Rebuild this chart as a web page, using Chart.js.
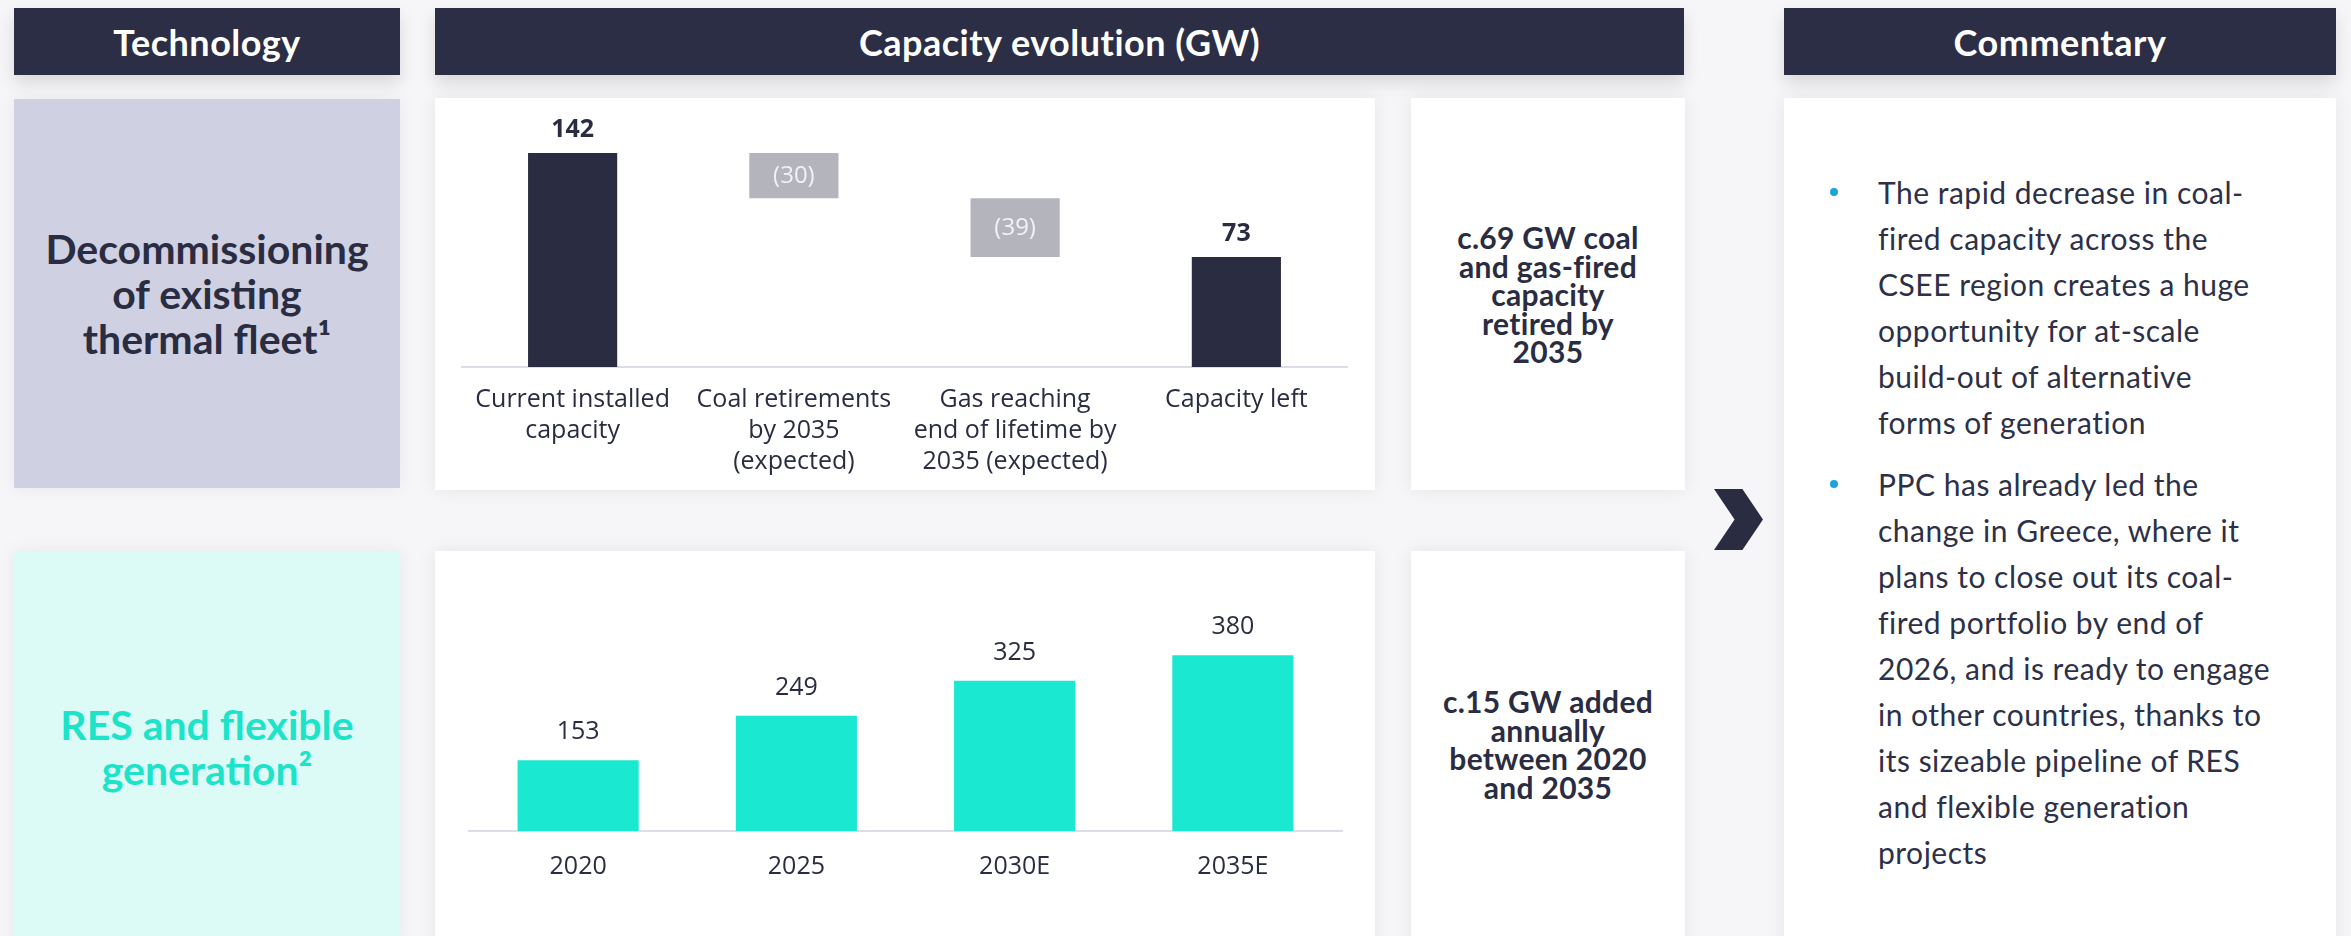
<!DOCTYPE html>
<html>
<head>
<meta charset="utf-8">
<script src="https://cdn.jsdelivr.net/npm/chart.js@4.4.1/dist/chart.umd.min.js"></script>
<style>
  html, body { margin: 0; padding: 0; }
  body { width: 2351px; height: 936px; background: #f6f6f8; position: relative; overflow: hidden; font-family: Lato, "Open Sans", sans-serif; color: #2a2d42; }
  .box { position: absolute; }
  .head { background: #2b2e44; color: #fff; font-weight: 700; font-size: 36px; display: flex; align-items: center; justify-content: center; box-shadow: 0 8px 16px rgba(0,0,0,0.12); letter-spacing: 0.5px; }
  .card { background: #fff; box-shadow: 0 0 18px rgba(0,0,0,0.07); }
  .title { position: absolute; left: 0; right: 0; text-align: center; font-weight: 700; font-size: 41px; line-height: 45px; }
  .note { position: absolute; left: 0; right: 0; text-align: center; font-weight: 700; font-size: 30px; line-height: 28.5px; color: #2a2d42; letter-spacing: 0.3px; }
  .comment { position: absolute; left: 94px; font-size: 30px; line-height: 46px; letter-spacing: 0.5px; color: #2d3047; }
  .dot { position: absolute; left: 46px; width: 8px; height: 8px; border-radius: 50%; background: #1ba3dc; }
  .chev { position: absolute; left: 1714px; top: 489px; width: 49px; height: 61px; background: #2a2d42; clip-path: polygon(0 0, 58% 0, 100% 50%, 58% 100%, 0 100%, 42% 50%); }
  canvas { position: absolute; }
</style>
</head>
<body>

<!-- headers -->
<div class="box head" style="left:14px;top:8px;width:386px;height:67px;">Technology</div>
<div class="box head" style="left:435px;top:8px;width:1249px;height:67px;">Capacity evolution (GW)</div>
<div class="box head" style="left:1784px;top:8px;width:552px;height:67px;">Commentary</div>

<!-- left labels -->
<div class="box" style="left:14px;top:99px;width:386px;height:389px;background:#cfd0e1;box-shadow:0 0 18px rgba(0,0,0,0.06);">
  <div class="title" style="top:127px;color:#2a2d42;">Decommissioning<br>of existing<br>thermal fleet¹</div>
</div>
<div class="box" style="left:14px;top:551px;width:386px;height:400px;background:#dcfaf6;box-shadow:0 0 18px rgba(0,0,0,0.06);">
  <div class="title" style="top:151px;color:#1de3c9;">RES and flexible<br>generation²</div>
</div>

<!-- chart cards -->
<div class="box card" style="left:435px;top:98px;width:940px;height:392px;"></div>
<div class="box card" style="left:435px;top:551px;width:940px;height:400px;"></div>

<!-- side notes -->
<div class="box card" style="left:1411px;top:98px;width:274px;height:392px;">
  <div class="note" style="top:125px;">c.69 GW coal<br>and gas-fired<br>capacity<br>retired by<br>2035</div>
</div>
<div class="box card" style="left:1411px;top:551px;width:274px;height:400px;">
  <div class="note" style="top:136px;">c.15 GW added<br>annually<br>between 2020<br>and 2035</div>
</div>

<div class="chev"></div>

<!-- commentary -->
<div class="box card" style="left:1784px;top:98px;width:552px;height:860px;">
  <div class="dot" style="top:90px;"></div>
  <div class="comment" style="top:71px;">The rapid decrease in coal-<br>fired capacity across the<br>CSEE region creates a huge<br>opportunity for at-scale<br>build-out of alternative<br>forms of generation</div>
  <div class="dot" style="top:382px;"></div>
  <div class="comment" style="top:363px;">PPC has already led the<br>change in Greece, where it<br>plans to close out its coal-<br>fired portfolio by end of<br>2026, and is ready to engage<br>in other countries, thanks to<br>its sizeable pipeline of RES<br>and flexible generation<br>projects</div>
</div>

<canvas id="topChart" width="940" height="392" style="left:435px;top:98px;"></canvas>
<canvas id="resChart" width="940" height="385" style="left:435px;top:551px;"></canvas>

<script>
// thermal fleet waterfall (GW)
const thermalCategories = [['Current installed', 'capacity'], ['Coal retirements', 'by 2035', '(expected)'], ['Gas reaching', 'end of lifetime by', '2035 (expected)'], ['Capacity left']];
const thermalValues = [142, -30, -39, 73];
const thermalIsTotal = [true, false, false, true];
const thermalLabels = ['142', '(30)', '(39)', '73'];

// RES and flexible generation (GW)
const resYears = ['2020', '2025', '2030E', '2035E'];
const resValues = [153, 249, 325, 380];

const navy = '#2a2d42';
const grey = '#b4b5bc';
const teal = '#1ae8d0';

// build floating ranges for the waterfall
let running = 0;
const thermalRanges = thermalValues.map(function (v, i) {
  if (thermalIsTotal[i]) {
    running = v;
    return [0, v];
  }
  const r = [running + v, running];
  running = running + v;
  return r;
});

// draws the value labels on top of / inside the bars
const valueLabels = {
  id: 'valueLabels',
  afterDatasetsDraw(chart, args, opts) {
    const ctx = chart.ctx;
    const meta = chart.getDatasetMeta(0);
    meta.data.forEach(function (bar, i) {
      const top = Math.min(bar.y, bar.base);
      ctx.save();
      ctx.textAlign = 'center';
      ctx.textBaseline = 'middle';
      if (opts.inside && opts.inside[i]) {
        ctx.fillStyle = '#f2f2f4';
        ctx.font = '400 24px "Open Sans"';
        ctx.fillText(opts.labels[i], bar.x, (bar.y + bar.base) / 2);
      } else {
        ctx.fillStyle = navy;
        ctx.font = opts.font;
        ctx.fillText(opts.labels[i], bar.x, top - opts.offset);
      }
      ctx.restore();
    });
  }
};

function xAxis(height, padding) {
  return {
    grid: { display: false, drawTicks: false },
    border: { display: true, color: '#dddce8', width: 2 },
    ticks: { color: navy, font: { family: 'Open Sans', size: 25, lineHeight: 1.24 }, padding: padding, maxRotation: 0, autoSkip: false },
    afterFit: function (s) { s.height = height; }
  };
}

new Chart(document.getElementById('topChart'), {
  type: 'bar',
  data: {
    labels: thermalCategories,
    datasets: [{
      data: thermalRanges,
      backgroundColor: thermalIsTotal.map(t => t ? navy : grey),
      categoryPercentage: 1,
      barPercentage: 0.403
    }]
  },
  options: {
    responsive: false,
    animation: false,
    layout: { padding: { left: 27, right: 28, top: 28, bottom: 0 } },
    plugins: {
      legend: { display: false },
      tooltip: { enabled: false },
      valueLabels: { labels: thermalLabels, inside: thermalIsTotal.map(t => !t), font: '700 25px "Open Sans"', offset: 23 }
    },
    scales: {
      x: xAxis(123, 17),
      y: { display: false, min: 0, max: 160 }
    }
  },
  plugins: [valueLabels]
});

new Chart(document.getElementById('resChart'), {
  type: 'bar',
  data: {
    labels: resYears,
    datasets: [{
      data: resValues,
      backgroundColor: teal,
      categoryPercentage: 1,
      barPercentage: 0.555
    }]
  },
  options: {
    responsive: false,
    animation: false,
    layout: { padding: { left: 34, right: 33, top: 21, bottom: 0 } },
    plugins: {
      legend: { display: false },
      tooltip: { enabled: false },
      valueLabels: { labels: resValues.map(String), font: '400 25px "Open Sans"', offset: 28 }
    },
    scales: {
      x: xAxis(105, 20),
      y: { display: false, min: 0, max: 560 }
    }
  },
  plugins: [valueLabels]
});
</script>
</body>
</html>
